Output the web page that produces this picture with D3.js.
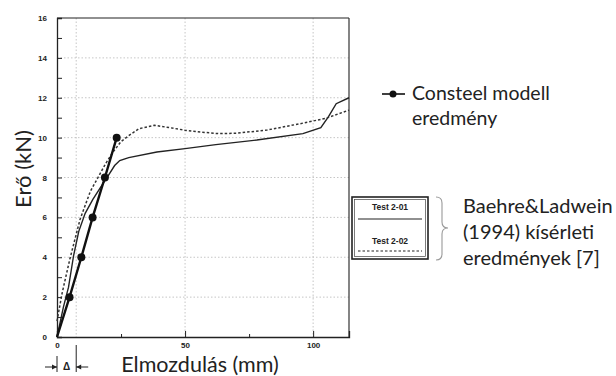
<!DOCTYPE html>
<html><head><meta charset="utf-8">
<script src="https://cdn.jsdelivr.net/npm/d3@7"></script>
<style>
html,body{margin:0;padding:0;background:#fff;}
svg{display:block;}
</style></head>
<body>
<svg id="chart" width="616" height="376"></svg>
<script>
// ---- data ----
const consteelX = [0, 4.9, 9.5, 13.9, 18.7, 23.3];
const consteelY = [0, 2, 4, 6, 8, 10];
const test201X = [0, 2.5, 4.5, 6.5, 8.5, 11, 14, 17, 20, 22.5, 24.5, 28, 39, 50, 62, 78, 96, 103, 106, 109, 114];
const test201Y = [0, 1.5, 2.5, 4.1, 5.3, 6.2, 6.9, 7.5, 8.1, 8.6, 8.85, 9.0, 9.28, 9.45, 9.65, 9.88, 10.2, 10.5, 11.05, 11.7, 12.0];
const test202X = [0, 2, 5, 7, 9, 13, 16, 19, 22, 25, 28, 32, 38, 44, 50, 56, 63, 70, 82, 95, 105, 114];
const test202Y = [0.8, 2.2, 3.9, 4.9, 5.9, 7.3, 8.0, 8.7, 9.3, 9.8, 10.1, 10.45, 10.62, 10.5, 10.37, 10.28, 10.2, 10.22, 10.38, 10.7, 10.97, 11.38];
const yTicks = [0, 2, 4, 6, 8, 10, 12, 14, 16];
const xTicks = [0, 50, 100];
const xMinorTicks = [25, 75];
const deltaX = 7.5;
const xDomain = [0, 114];
const yDomain = [0, 16];
const yTitle = "Erő (kN)";
const xTitle = "Elmozdulás (mm)";
const consteelLabel = ["Consteel modell", "eredmény"];
const testLabels = ["Test 2-01", "Test 2-02"];
const refLabel = ["Baehre&Ladwein", "(1994) kísérleti", "eredmények [7]"];

// ---- drawing ----
const svg = d3.select("#chart");
const L = 57, R = 349, T = 18, B = 337;
const x = d3.scaleLinear().domain(xDomain).range([L, R]);
const y = d3.scaleLinear().domain(yDomain).range([B, T]);
const FONT = "Lato, 'Open Sans', sans-serif";
const TICKF = "'Liberation Sans', Arial, sans-serif";

// grid
const grid = svg.append("g").attr("stroke", "#b8b8b8").attr("stroke-width", 0.8).attr("stroke-dasharray", "1.5,2");
grid.selectAll("line.h").data(yTicks.filter(d => d > 0 && d < 16)).join("line")
  .attr("x1", L).attr("x2", R).attr("y1", d => y(d)).attr("y2", d => y(d));
grid.selectAll("line.v").data([deltaX, 50, 100]).join("line")
  .attr("x1", d => x(d)).attr("x2", d => x(d)).attr("y1", T).attr("y2", B);

// frame top & right
svg.append("line").attr("x1", L).attr("x2", R).attr("y1", T).attr("y2", T).attr("stroke", "#222").attr("stroke-width", 1.2);
svg.append("line").attr("x1", R).attr("x2", R).attr("y1", T).attr("y2", B).attr("stroke", "#333").attr("stroke-width", 1.2);

// y axis
const yAxis = d3.axisLeft(y).tickValues(d3.range(0, 17, 1)).tickSize(-5).tickPadding(10)
  .tickFormat(d => yTicks.includes(d) ? d : "");
const gy = svg.append("g").attr("transform", `translate(${L},0)`).call(yAxis);
gy.select(".domain").attr("stroke", "#222").attr("stroke-width", 1.3);
gy.selectAll(".tick line").attr("stroke", "#222").attr("stroke-width", 1);
gy.selectAll(".tick text").attr("font-family", TICKF).attr("font-weight", "bold").attr("font-size", 8).attr("fill", "#222");

// x axis
const xAxis = d3.axisBottom(x).tickValues(xTicks).tickSize(-6).tickPadding(5).tickFormat(d3.format("d"));
const gx = svg.append("g").attr("transform", `translate(0,${B})`).call(xAxis);
gx.select(".domain").attr("stroke", "#222").attr("stroke-width", 1.3);
gx.selectAll(".tick line").attr("stroke", "#222");
gx.selectAll(".tick text").attr("font-family", TICKF).attr("font-weight", "bold").attr("font-size", 8).attr("fill", "#222");
const gx2 = svg.append("g").attr("transform", `translate(0,${B})`)
  .call(d3.axisBottom(x).tickValues(xMinorTicks).tickSize(-3).tickFormat(""));
gx2.select(".domain").remove();
gx2.selectAll(".tick line").attr("stroke", "#222");

// lines
const lineGen = d3.line().x(d => x(d[0])).y(d => y(d[1]));
const zip = (a, b) => a.map((v, i) => [v, b[i]]);
svg.append("path").datum(zip(test201X, test201Y)).attr("d", lineGen)
  .attr("fill", "none").attr("stroke", "#222").attr("stroke-width", 1.4);
svg.append("path").datum(zip(test202X, test202Y)).attr("d", lineGen)
  .attr("fill", "none").attr("stroke", "#333").attr("stroke-width", 1.5).attr("stroke-dasharray", "2.5,2");
const cs = zip(consteelX, consteelY);
svg.append("path").datum(cs).attr("d", lineGen)
  .attr("fill", "none").attr("stroke", "#111").attr("stroke-width", 2.4);
svg.selectAll("circle.cs").data(cs.slice(1)).join("circle")
  .attr("cx", d => x(d[0])).attr("cy", d => y(d[1])).attr("r", 4).attr("fill", "#111");

// delta marker
const dm = svg.append("g").attr("stroke", "#222").attr("stroke-width", 1);
const x0 = x(0), xd = x(deltaX);
dm.append("line").attr("x1", x0).attr("x2", x0).attr("y1", 356).attr("y2", 372);
dm.append("line").attr("x1", xd).attr("x2", xd).attr("y1", 345).attr("y2", 372);
dm.append("line").attr("x1", x0 - 12).attr("x2", x0).attr("y1", 367).attr("y2", 367);
dm.append("line").attr("x1", xd).attr("x2", xd + 12).attr("y1", 367).attr("y2", 367);
svg.append("path").attr("d", `M${x0},367 l-5,-2.5 l0,5 z`).attr("fill", "#222");
svg.append("path").attr("d", `M${xd},367 l5,-2.5 l0,5 z`).attr("fill", "#222");
svg.append("text").attr("x", (x0 + xd) / 2).attr("y", 370).attr("text-anchor", "middle")
  .attr("font-family", TICKF).attr("font-weight", "bold").attr("font-size", 10).attr("fill", "#222").text("Δ");

// axis titles
svg.append("text").attr("x", 200).attr("y", 372).attr("text-anchor", "middle")
  .attr("font-family", FONT).attr("font-size", 21.5).attr("fill", "#222").text(xTitle);
svg.append("text").attr("transform", "translate(31,169) rotate(-90)").attr("text-anchor", "middle")
  .attr("font-family", FONT).attr("font-size", 22).attr("fill", "#222").text(yTitle);

// consteel legend
svg.append("line").attr("x1", 382).attr("x2", 405).attr("y1", 94).attr("y2", 94).attr("stroke", "#111").attr("stroke-width", 1.6);
svg.append("circle").attr("cx", 393).attr("cy", 94).attr("r", 3.5).attr("fill", "#111");
svg.selectAll("text.cl").data(consteelLabel).join("text")
  .attr("x", 412).attr("y", (d, i) => 100 + i * 25)
  .attr("font-family", FONT).attr("font-size", 19.5).attr("fill", "#222").text(d => d);

// test legend box
svg.append("rect").attr("x", 352).attr("y", 197).attr("width", 76).attr("height", 62)
  .attr("fill", "none").attr("stroke", "#222").attr("stroke-width", 1.6);
svg.append("rect").attr("x", 354.5).attr("y", 199.5).attr("width", 71).attr("height", 57)
  .attr("fill", "none").attr("stroke", "#444").attr("stroke-width", 0.7);
svg.selectAll("text.tl").data(testLabels).join("text")
  .attr("x", 390).attr("y", (d, i) => 210 + i * 34).attr("text-anchor", "middle")
  .attr("font-family", TICKF).attr("font-weight", "bold").attr("font-size", 8.5).attr("fill", "#222").text(d => d);
svg.append("line").attr("x1", 358).attr("x2", 422).attr("y1", 219).attr("y2", 219).attr("stroke", "#222").attr("stroke-width", 1.2);
svg.append("line").attr("x1", 358).attr("x2", 422).attr("y1", 251).attr("y2", 251).attr("stroke", "#222").attr("stroke-width", 1.2).attr("stroke-dasharray", "2.5,2");

// brace
svg.append("path").attr("d", "M436,197 Q442,197 442,203 L442,222 Q442,228 448,228 Q442,228 442,234 L442,254 Q442,260 436,260")
  .attr("fill", "none").attr("stroke", "#999").attr("stroke-width", 1.1);
svg.selectAll("text.rl").data(refLabel).join("text")
  .attr("x", 463).attr("y", (d, i) => 213 + i * 26)
  .attr("font-family", FONT).attr("font-size", 20).attr("fill", "#222").text(d => d);
</script>
</body></html>
